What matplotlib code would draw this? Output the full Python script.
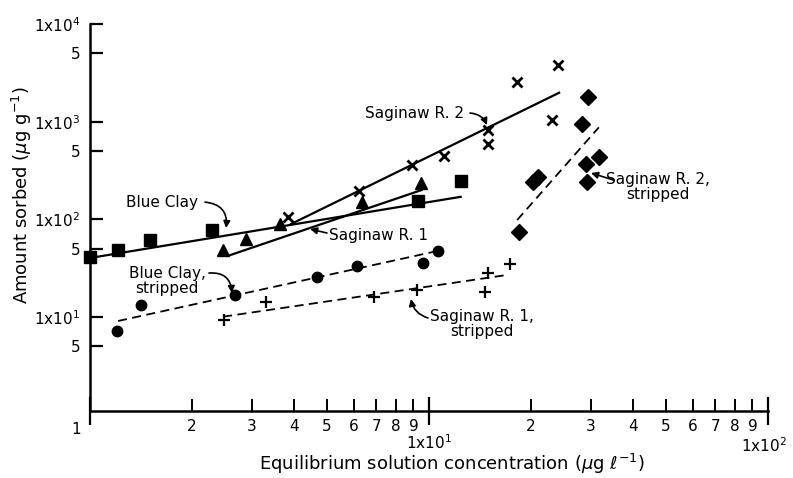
import matplotlib
matplotlib.use("Agg")
import matplotlib.pyplot as plt
from matplotlib.ticker import FixedLocator, FixedFormatter

# ---------------- data ----------------
blue_clay_x = [1.0, 1.21, 1.50, 2.29, 9.30, 12.4]
blue_clay_y = [41, 48.5, 61, 77.6, 155, 248]
blue_clay_fit_x = [1.0, 12.4]
blue_clay_fit_y = [40.2, 170]

sag1_x = [2.46, 2.89, 3.63, 6.33, 9.47]
sag1_y = [48.5, 62.4, 88.9, 151, 233]
sag1_fit_x = [2.56, 9.51]
sag1_fit_y = [42.4, 199.5]

sag2_x = [3.85, 6.23, 8.89, 11.07, 14.96, 14.96, 18.2, 23.0, 24.0]
sag2_y = [105, 195, 356, 442, 820, 590, 2523, 1038, 3794]
sag2_fit_x = [3.92, 24.2]
sag2_fit_y = [89.6, 1977]

sag2s_x = [18.4, 20.3, 21.0, 28.2, 29.0, 29.2, 29.4, 31.8]
sag2s_y = [74.6, 241, 271, 944, 366, 243, 1799, 438]
sag2s_fit_x = [18.2, 31.7]
sag2s_fit_y = [98.4, 875]

bcs_x = [1.20, 1.41, 2.68, 4.66, 6.12, 9.58, 10.6]
bcs_y = [7.24, 13.3, 16.8, 25.5, 33.3, 35.5, 47.7]
bcs_fit_x = [1.21, 10.27]
bcs_fit_y = [9.1, 46.3]

sag1s_x = [2.49, 3.30, 6.88, 9.20, 14.6, 14.9, 17.3]
sag1s_y = [9.31, 14.4, 16.1, 18.9, 18.2, 28.0, 34.9]
sag1s_fit_x = [2.47, 16.95]
sag1s_fit_y = [10.07, 26.9]

y_ticks = [5, 10, 50, 100, 500, 1000, 5000, 10000]
y_tick_labels = ["5", "1x10$^{1}$", "5", "1x10$^{2}$", "5", "1x10$^{3}$", "5", "1x10$^{4}$"]
x_major = [1, 10, 100]
x_major_labels = ["1", "1x10$^{1}$", "1x10$^{2}$"]
x_minor = [2, 3, 4, 5, 6, 7, 8, 9, 20, 30, 40, 50, 60, 70, 80, 90]
x_minor_labels = ["2", "3", "4", "5", "6", "7", "8", "9"] * 2

# ---------------- figure ----------------
plt.rcParams['font.family'] = ['DejaVu Sans']
fig = plt.figure(figsize=(7.93, 4.78), dpi=100)
ax = fig.add_axes([90/793, 1-411/478, (768-90)/793, (411-24)/478])
ax.set_xscale('log')
ax.set_yscale('log')
ax.set_xlim(1, 100)
ax.set_ylim(1.09, 1e4)

k = 'black'
lw = 1.6
dash = (0, (5, 3))

# solid fits
ax.plot(blue_clay_fit_x, blue_clay_fit_y, color=k, lw=lw)
ax.plot(sag1_fit_x, sag1_fit_y, color=k, lw=lw)
ax.plot(sag2_fit_x, sag2_fit_y, color=k, lw=lw)
# dashed fits
ax.plot(bcs_fit_x, bcs_fit_y, color=k, lw=1.3, ls=dash)
ax.plot(sag1s_fit_x, sag1s_fit_y, color=k, lw=1.3, ls=dash)
ax.plot(sag2s_fit_x, sag2s_fit_y, color=k, lw=1.3, ls=dash)

# markers
ax.plot(blue_clay_x, blue_clay_y, 's', color=k, ms=8, clip_on=False)
ax.plot(sag1_x, sag1_y, '^', color=k, ms=8)
ax.plot(sag2_x, sag2_y, 'x', color=k, ms=7, mew=2)
ax.plot(sag2s_x, sag2s_y, 'D', color=k, ms=8)
ax.plot(bcs_x, bcs_y, 'o', color=k, ms=7.5)
ax.plot(sag1s_x, sag1s_y, '+', color=k, ms=8, mew=1.6)

# spines
for s in ['top', 'right']:
    ax.spines[s].set_visible(False)
for s in ['left', 'bottom']:
    ax.spines[s].set_linewidth(1.8)

# y ticks
ax.yaxis.set_major_locator(FixedLocator(y_ticks))
ax.yaxis.set_major_formatter(FixedFormatter(y_tick_labels))
ax.yaxis.set_minor_locator(FixedLocator([]))
ax.tick_params(axis='y', which='major', direction='in', length=9.5, width=1.6,
               labelsize=11, pad=7)

# x ticks
ax.xaxis.set_major_locator(FixedLocator(x_major))
ax.xaxis.set_major_formatter(FixedFormatter(["", "", ""]))
ax.xaxis.set_minor_locator(FixedLocator(x_minor))
ax.xaxis.set_minor_formatter(FixedFormatter(x_minor_labels))
ax.tick_params(axis='x', which='major', direction='inout', length=20, width=1.6)
ax.tick_params(axis='x', which='minor', direction='in', length=8.5, width=1.4,
               labelsize=11, pad=6)

# major x labels placed individually
offsets = [(-10, -13), (0, -23), (-3, -25)]
for v, lab, (dx, dy) in zip(x_major, x_major_labels, offsets):
    ax.annotate(lab, xy=(v, 0), xycoords=('data', 'axes fraction'),
                xytext=(dx, dy), textcoords='offset points',
                ha='center', va='center', fontsize=11, annotation_clip=False)

# axis labels
fig.text(22/793, 1-195/478, "Amount sorbed ($\\mu$g g$^{-1}$)", rotation=90,
         ha='center', va='center', fontsize=13)
fig.text(452/793, 1-464/478, "Equilibrium solution concentration ($\\mu$g $\\ell^{-1}$)",
         ha='center', va='center', fontsize=13)

# annotations
fs = 11
ax.text(1.63, 147, "Blue Clay", ha='center', va='center', fontsize=fs)
ax.text(9.09, 1225, "Saginaw R. 2", ha='center', va='center', fontsize=fs)
ax.text(7.12, 69.0, "Saginaw R. 1", ha='center', va='center', fontsize=fs)
ax.text(1.687, 23.3, "Blue Clay,\nstripped", ha='center', va='center', fontsize=fs,
        linespacing=1.05)
ax.text(14.33, 8.48, "Saginaw R. 1,\nstripped", ha='center', va='center', fontsize=fs,
        linespacing=1.05)
ax.text(47.4, 214, "Saginaw R. 2,\nstripped", ha='center', va='center', fontsize=fs,
        linespacing=1.05)

ap = dict(arrowstyle='-|>', color=k, lw=1.2, mutation_scale=10, shrinkA=0, shrinkB=0)
def arrow(tail, tip, rad):
    d = dict(ap)
    d['connectionstyle'] = f'arc3,rad={rad}'
    ax.annotate('', xy=tip, xytext=tail, arrowprops=d)

arrow((2.184, 150), (2.52, 81.5), -0.5)
arrow((13.21, 1225), (14.83, 923), -0.3)
arrow((5.00, 72.4), (4.46, 79.6), 0.0)
arrow((2.244, 28.2), (2.62, 17.6), -0.5)
arrow((9.93, 9.77), (8.85, 15.3), -0.3)
arrow((35.1, 252), (30.06, 298), 0.0)

fig.savefig("out.png", dpi=100)
